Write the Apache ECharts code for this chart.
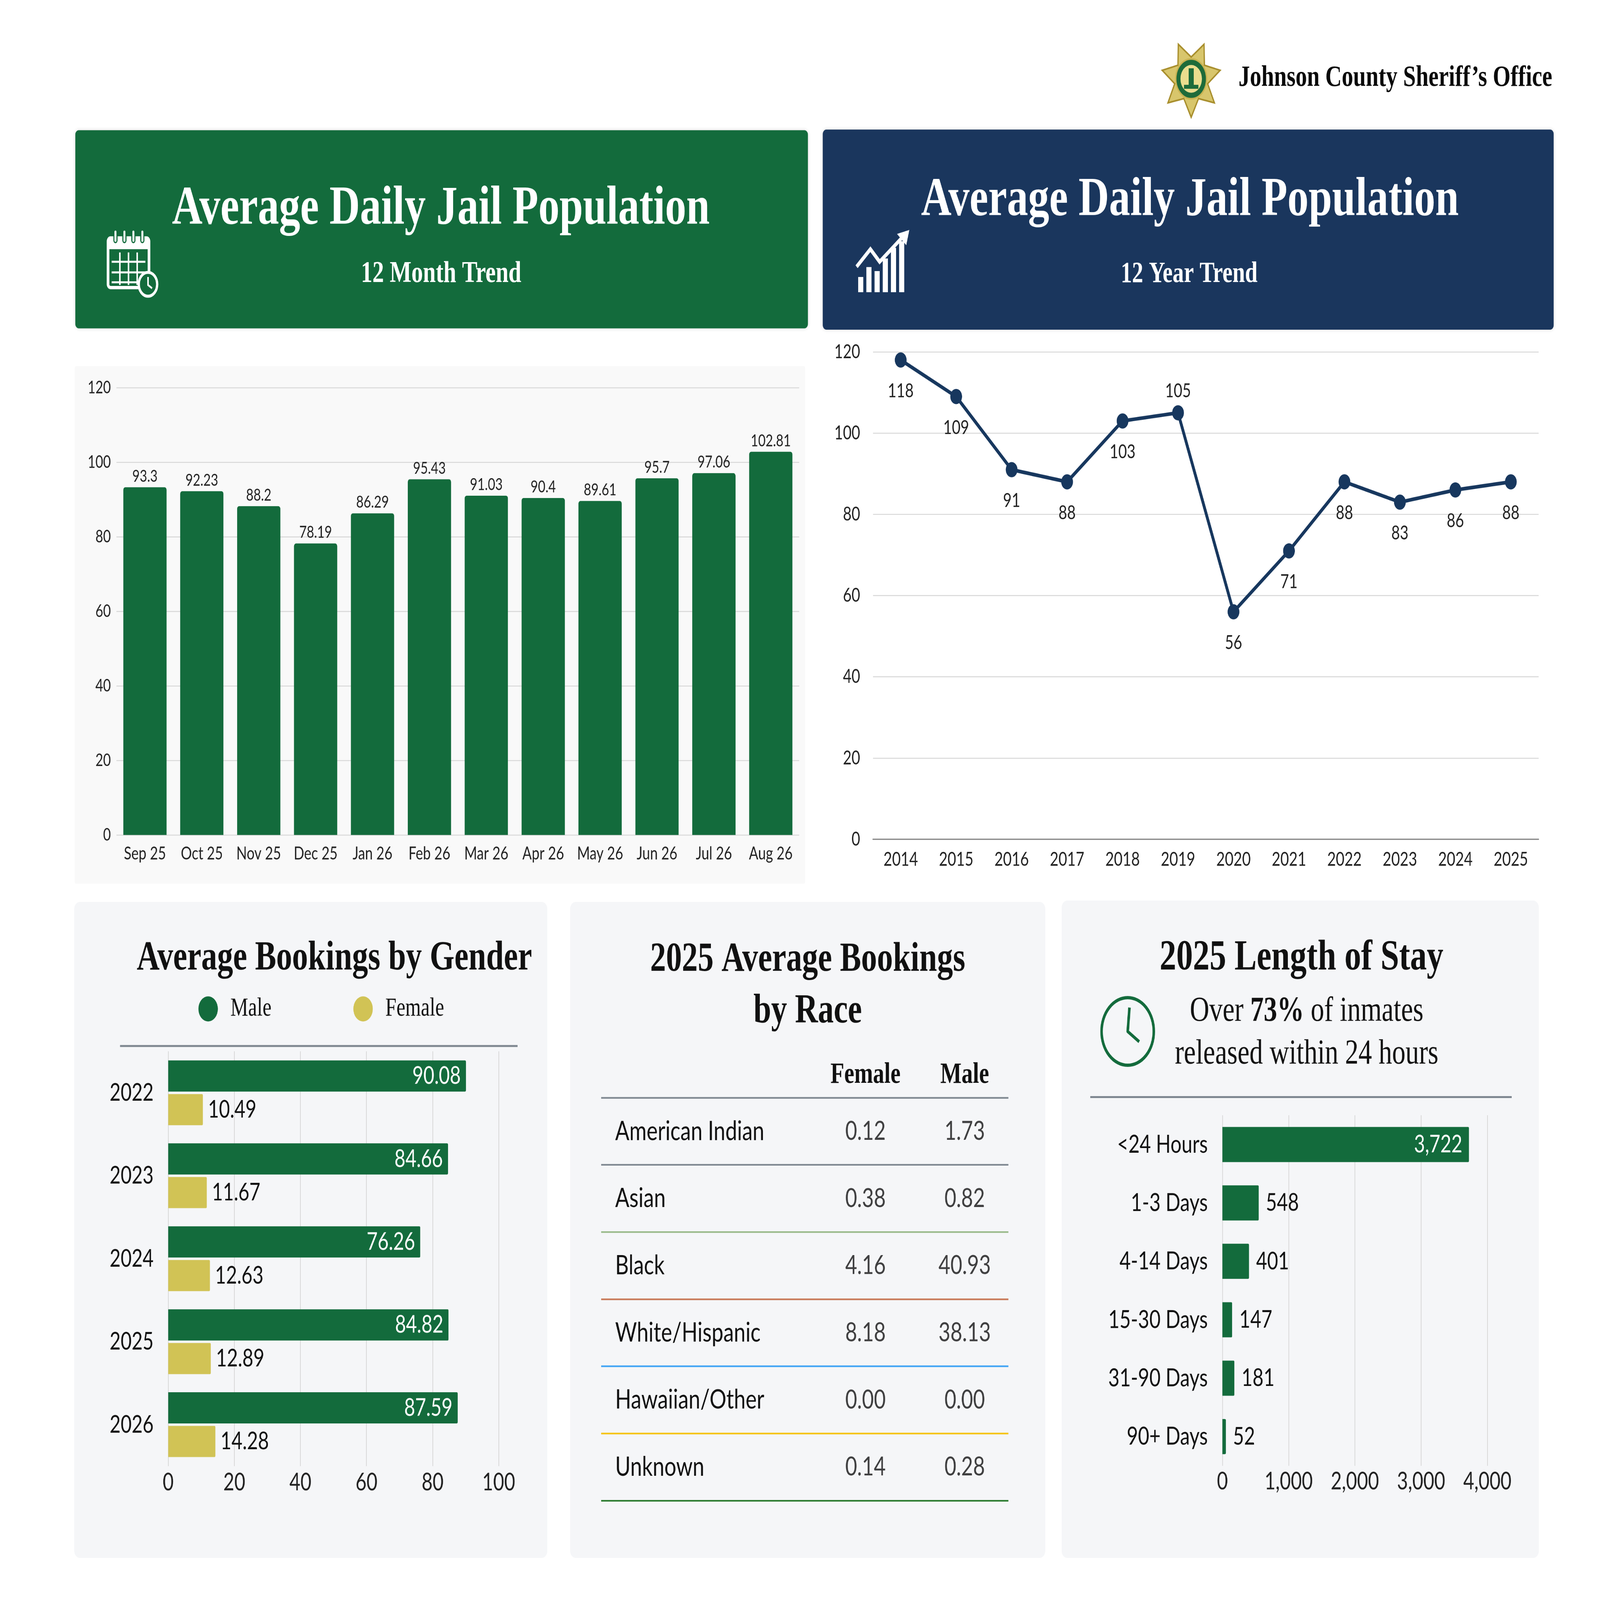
<!DOCTYPE html>
<html><head><meta charset="utf-8">
<script src="https://cdn.jsdelivr.net/npm/echarts@6/dist/echarts.min.js"></script>
<style>html,body{margin:0;padding:0;background:#ffffff;overflow:hidden}#c{width:6250px;height:4829px;transform-origin:0 0}</style>
</head><body><div id="c"></div>
<script>
// ---------------- DATA ----------------
const monthCategories = ['Sep 25','Oct 25','Nov 25','Dec 25','Jan 26','Feb 26','Mar 26','Apr 26','May 26','Jun 26','Jul 26','Aug 26'];
const monthValues = [93.3, 92.23, 88.2, 78.19, 86.29, 95.43, 91.03, 90.4, 89.61, 95.7, 97.06, 102.81];

const yearCategories = ['2014','2015','2016','2017','2018','2019','2020','2021','2022','2023','2024','2025'];
const yearValues = [118, 109, 91, 88, 103, 105, 56, 71, 88, 83, 86, 88];

const genderYears = ['2022','2023','2024','2025','2026'];
const maleBookings = [90.08, 84.66, 76.26, 84.82, 87.59];
const femaleBookings = [10.49, 11.67, 12.63, 12.89, 14.28];

const raceCategories = ['American Indian','Asian','Black','White/Hispanic','Hawaiian/Other','Unknown'];
const raceColumns = ['Female','Male'];
const raceFemale = [0.12, 0.38, 4.16, 8.18, 0.00, 0.14];
const raceMale = [1.73, 0.82, 40.93, 38.13, 0.00, 0.28];

const stayCategories = ['<24 Hours','1-3 Days','4-14 Days','15-30 Days','31-90 Days','90+ Days'];
const stayValues = [3722, 548, 401, 147, 181, 52];

// ---------------- FIT TO WINDOW ----------------
const DESIGN_W = 6250, DESIGN_H = 4829;
const box = document.getElementById('c');
const sx = window.innerWidth / DESIGN_W, sy = window.innerHeight / DESIGN_H;
if (Math.abs(sx - 1) > 0.001 || Math.abs(sy - 1) > 0.001) {
  box.style.transform = 'scale(' + sx + ',' + sy + ')';
}

// ---------------- STYLE ----------------
const GREEN = '#136B3C', NAVY = '#1A365D', GOLD = '#D1C355', LINE = '#17375E';
const SANS = 'Lato', SERIF = 'Liberation Serif';
const PANEL = '#F5F6F8';
const GRIDC = '#D9D9D9';
const raceLineColors = ['#7F8891','#7F8891','#9BBB8C','#C97B5A','#42A5F5','#F5C518','#2E7D32'];
const LABEL_ABOVE_YEAR = '2019';

function txt(x, y, text, size, opts) {
  opts = opts || {};
  return {
    type: 'text', x: x, y: y, z: 20,
    style: Object.assign({
      text: text, fill: opts.fill || '#111', fontFamily: opts.family || SERIF,
      fontSize: size, fontWeight: opts.weight || 'bold',
      align: opts.align || 'center', verticalAlign: 'middle'
    }, opts.style || {})
  };
}

function starPoints(cx, cy, R, r, n) {
  const pts = [];
  for (let k = 0; k < 2 * n; k++) {
    const a = Math.PI / 2 + k * Math.PI / n;
    const rad = k % 2 === 0 ? R : r;
    pts.push([cx + rad * Math.cos(a), cy + rad * Math.sin(a)]);
  }
  return pts;
}

const W = '#ffffff';
const BX = 4653, BY = 238; // badge centre
const CX = 4405, CY = 3113; // clock centre
const graphics = [
  // panels
  {type:'rect', z:-10, shape:{x:294,y:393,width:2862,height:598,r:14}, style:{fill:GREEN, shadowBlur:12, shadowColor:'rgba(0,0,0,0.15)'}},
  {type:'rect', z:-10, shape:{x:3214,y:391,width:2855,height:604,r:14}, style:{fill:NAVY, shadowBlur:12, shadowColor:'rgba(0,0,0,0.15)'}},
  {type:'rect', z:-10, shape:{x:292,y:1105,width:2853,height:1562,r:6}, style:{fill:'#F9F9F9'}},
  {type:'rect', z:-10, shape:{x:290,y:2722,width:1848,height:1980,r:22}, style:{fill:PANEL}},
  {type:'rect', z:-10, shape:{x:2227,y:2722,width:1856,height:1980,r:22}, style:{fill:PANEL}},
  {type:'rect', z:-10, shape:{x:4147,y:2718,width:1864,height:1984,r:22}, style:{fill:PANEL}},
  // header texts
  txt(1722, 632, 'Average Daily Jail Population', 165, {fill:W}),
  txt(1723, 828, '12 Month Trend', 90, {fill:W}),
  txt(4648, 606, 'Average Daily Jail Population', 165, {fill:W}),
  txt(4645, 828, '12 Year Trend', 88, {fill:W}),
  txt(4838, 236, 'Johnson County Sheriff\u2019s Office', 89, {fill:'#0A0A0A', align:'left'}),
  // panel titles
  txt(1306, 2894, 'Average Bookings by Gender', 124),
  txt(3155, 2976, '2025 Average Bookings\nby Race', 124, {style:{lineHeight:156}}),
  txt(5084, 2892, '2025 Length of Stay', 130),
  {type:'text', x:5104, y:3118, z:20, style:{
    text:'Over {b|73%} of inmates\nreleased within 24 hours', fill:'#111', fontFamily:SERIF, fontSize:105,
    fontWeight:'normal', align:'center', verticalAlign:'middle', lineHeight:129,
    rich:{b:{fontFamily:SERIF, fontSize:105, fontWeight:'bold', fill:'#111', lineHeight:129}}
  }},
  // separators
  {type:'line', z:5, shape:{x1:469,y1:3157,x2:2022,y2:3157}, style:{stroke:'#7F8891', lineWidth:6}},
  {type:'line', z:5, shape:{x1:4259,y1:3311,x2:5905,y2:3311}, style:{stroke:'#7F8891', lineWidth:6}},
  // LOS clock icon
  {type:'circle', z:5, shape:{cx:CX,cy:CY,r:102}, style:{fill:'none', stroke:GREEN, lineWidth:10}},
  {type:'polyline', z:5, shape:{points:[[CX+7,CY-72],[CX,CY],[CX+45,CY+31]]}, style:{fill:'none', stroke:GREEN, lineWidth:10, lineJoin:'round'}},
  // calendar icon
  {type:'rect', z:5, shape:{x:422,y:718,width:160,height:150,r:10}, style:{fill:'none', stroke:W, lineWidth:10}},
  {type:'rect', z:5, shape:{x:422,y:718,width:160,height:34}, style:{fill:W}},
  {type:'rect', z:6, shape:{x:445,y:694,width:12,height:38,r:6}, style:{fill:W, stroke:GREEN, lineWidth:4}},
  {type:'rect', z:6, shape:{x:480,y:694,width:12,height:38,r:6}, style:{fill:W, stroke:GREEN, lineWidth:4}},
  {type:'rect', z:6, shape:{x:515,y:694,width:12,height:38,r:6}, style:{fill:W, stroke:GREEN, lineWidth:4}},
  {type:'rect', z:6, shape:{x:550,y:694,width:12,height:38,r:6}, style:{fill:W, stroke:GREEN, lineWidth:4}},
  {type:'line', z:5, shape:{x1:436,y1:790,x2:568,y2:790}, style:{stroke:W, lineWidth:6}},
  {type:'line', z:5, shape:{x1:436,y1:822,x2:568,y2:822}, style:{stroke:W, lineWidth:6}},
  {type:'line', z:5, shape:{x1:436,y1:852,x2:568,y2:852}, style:{stroke:W, lineWidth:6}},
  {type:'line', z:5, shape:{x1:468,y1:762,x2:468,y2:860}, style:{stroke:W, lineWidth:6}},
  {type:'line', z:5, shape:{x1:502,y1:762,x2:502,y2:860}, style:{stroke:W, lineWidth:6}},
  {type:'line', z:5, shape:{x1:536,y1:762,x2:536,y2:860}, style:{stroke:W, lineWidth:6}},
  {type:'circle', z:7, shape:{cx:578,cy:858,r:36}, style:{fill:GREEN, stroke:W, lineWidth:9}},
  {type:'polyline', z:8, shape:{points:[[578,836],[578,860],[594,870]]}, style:{fill:'none', stroke:W, lineWidth:6}},
  // growth chart icon
  {type:'rect', z:5, shape:{x:3352,y:836,width:20,height:46}, style:{fill:W}},
  {type:'rect', z:5, shape:{x:3384,y:806,width:20,height:76}, style:{fill:W}},
  {type:'rect', z:5, shape:{x:3416,y:818,width:20,height:64}, style:{fill:W}},
  {type:'rect', z:5, shape:{x:3448,y:780,width:20,height:102}, style:{fill:W}},
  {type:'rect', z:5, shape:{x:3480,y:748,width:20,height:134}, style:{fill:W}},
  {type:'rect', z:5, shape:{x:3512,y:728,width:20,height:154}, style:{fill:W}},
  {type:'polyline', z:6, shape:{points:[[3346,805],[3400,752],[3436,790],[3530,712]]}, style:{fill:'none', stroke:W, lineWidth:12}},
  {type:'polygon', z:6, shape:{points:[[3552,694],[3504,706],[3540,740]]}, style:{fill:W}},
  // badge
  {type:'polygon', z:5, shape:{points:starPoints(BX,BY,116,66,7)}, style:{fill:'#D8C66C', stroke:'#A88E2C', lineWidth:5}},
  {type:'circle', z:6, shape:{cx:BX,cy:BY,r:60}, style:{fill:'#1E6B3A', stroke:'#C9B352', lineWidth:5}},
  {type:'circle', z:7, shape:{cx:BX,cy:BY,r:42}, style:{fill:'#EBDD8E'}},
  {type:'rect', z:8, shape:{x:BX-10,y:BY-32,width:20,height:60}, style:{fill:'#1E6B3A'}},
  {type:'rect', z:8, shape:{x:BX-28,y:BY+18,width:56,height:12}, style:{fill:'#1E6B3A'}}
];

const axisLabelBase = { fontFamily: SANS, color: '#222' };

const option = {
  animation: false,
  backgroundColor: '#ffffff',
  textStyle: { fontFamily: SANS },
  graphic: { elements: graphics },
  legend: {
    data: ['Male','Female'], left: 770, top: 3001, orient: 'horizontal',
    icon: 'circle', itemWidth: 76, itemHeight: 76, itemGap: 320,
    textStyle: { fontFamily: SERIF, fontSize: 78, color: '#111', padding: [0,0,0,44] }
  },
  grid: [
    { left: 455, top: 1170, width: 2667, height: 1350, outerBoundsMode: 'none' },
    { left: 3410, top: 1062, width: 2600, height: 1471, outerBoundsMode: 'none' },
    { left: 657, top: 3173, width: 1291, height: 1252, outerBoundsMode: 'none' },
    { left: 2348, top: 3313, width: 1591, height: 1216, outerBoundsMode: 'none' },
    { left: 3187, top: 3313, width: 775, height: 1216, outerBoundsMode: 'none' },
    { left: 4775, top: 3366, width: 1035, height: 1058, outerBoundsMode: 'none' }
  ],
  xAxis: [
    { gridIndex: 0, type: 'category', data: monthCategories, axisLine: {show:false}, axisTick: {show:false},
      axisLabel: Object.assign({fontSize: 54, margin: 30, interval: 0}, axisLabelBase) },
    { gridIndex: 1, type: 'category', data: yearCategories, axisLine: {show:true, lineStyle:{color:'#8A8A8A', width:4}}, axisTick: {show:false},
      axisLabel: Object.assign({fontSize: 58, margin: 32, interval: 0}, axisLabelBase) },
    { gridIndex: 2, type: 'value', min: 0, max: 100, interval: 20, axisLine: {show:false}, axisTick: {show:false},
      splitLine: {show:true, lineStyle:{color:GRIDC, width:3}},
      axisLabel: Object.assign({fontSize: 74, margin: 12}, axisLabelBase) },
    { gridIndex: 3, type: 'value', show: false, min: 0, max: 1 },
    { gridIndex: 4, type: 'category', data: raceColumns, position: 'top', axisLine: {show:false}, axisTick: {show:false},
      axisLabel: { fontFamily: SERIF, fontWeight: 'bold', fontSize: 88, color: '#111', margin: 24, interval: 0 } },
    { gridIndex: 5, type: 'value', min: 0, max: 4000, interval: 1000, axisLine: {show:false}, axisTick: {show:false},
      splitLine: {show:true, lineStyle:{color:GRIDC, width:3}},
      axisLabel: Object.assign({fontSize: 74, margin: 10, formatter: v => v.toLocaleString('en-US')}, axisLabelBase) }
  ],
  yAxis: [
    { gridIndex: 0, type: 'value', min: 0, max: 120, interval: 20, axisLine:{show:false}, axisTick:{show:false},
      splitLine: {show:true, lineStyle:{color:GRIDC, width:3}},
      axisLabel: Object.assign({fontSize: 52, margin: 22}, axisLabelBase) },
    { gridIndex: 1, type: 'value', min: 0, max: 120, interval: 20, axisLine:{show:false}, axisTick:{show:false},
      splitLine: {show:true, lineStyle:{color:GRIDC, width:3}},
      axisLabel: Object.assign({fontSize: 58, margin: 50}, axisLabelBase) },
    { gridIndex: 2, type: 'category', data: genderYears, inverse: true, axisLine:{show:false}, axisTick:{show:false},
      axisLabel: Object.assign({fontSize: 74, margin: 57, interval: 0}, axisLabelBase, {color:'#111'}) },
    { gridIndex: 3, type: 'category', data: raceCategories, inverse: true, axisLine:{show:false}, axisTick:{show:false},
      splitLine: {show:true, interval: 0, lineStyle:{color: raceLineColors, width: 5}},
      axisLabel: { inside: true, margin: 55, fontFamily: SANS, fontSize: 82, color: '#111', interval: 0 } },
    { gridIndex: 4, type: 'category', data: raceCategories, inverse: true, show: false },
    { gridIndex: 5, type: 'category', data: stayCategories, inverse: true, axisLine:{show:false}, axisTick:{show:false},
      axisLabel: Object.assign({fontSize: 76, margin: 57, interval: 0}, axisLabelBase, {color:'#111'}) }
  ],
  series: [
    { type: 'bar', xAxisIndex: 0, yAxisIndex: 0, data: monthValues, barCategoryGap: '24%',
      itemStyle: { color: GREEN, borderRadius: [8,8,0,0] },
      label: { show: true, position: 'top', distance: 8, fontFamily: SANS, fontSize: 50, color: '#222' } },
    { type: 'line', xAxisIndex: 1, yAxisIndex: 1,
      data: yearValues.map((v, i) => ({ value: v, label: yearCategories[i] === LABEL_ABOVE_YEAR ? { position: 'top', distance: 14 } : { position: 'bottom', distance: 42 } })),
      symbol: 'circle', symbolSize: 46, lineStyle: { color: LINE, width: 11 }, itemStyle: { color: LINE },
      label: { show: true, fontFamily: SANS, fontSize: 58, color: '#222' } },
    { name: 'Male', type: 'bar', xAxisIndex: 2, yAxisIndex: 2, data: maleBookings, barWidth: 94, barGap: '8%',
      itemStyle: { color: GREEN, borderRadius: [0,4,4,0] },
      label: { show: true, position: 'insideRight', distance: 20, fontFamily: SANS, fontSize: 74, color: '#ffffff', formatter: p => p.value.toFixed(2) } },
    { name: 'Female', type: 'bar', xAxisIndex: 2, yAxisIndex: 2, data: femaleBookings, barWidth: 94, barGap: '8%',
      itemStyle: { color: GOLD, borderRadius: [0,4,4,0] },
      label: { show: true, position: 'right', distance: 20, fontFamily: SANS, fontSize: 74, color: '#111', formatter: p => p.value.toFixed(2) } },
    { type: 'scatter', xAxisIndex: 3, yAxisIndex: 3, data: [], silent: true },
    { type: 'scatter', xAxisIndex: 4, yAxisIndex: 4, symbolSize: 1, itemStyle: { color: 'rgba(0,0,0,0)' },
      data: raceFemale.map((v, i) => [raceColumns[0], raceCategories[i], v]),
      label: { show: true, position: 'inside', fontFamily: SANS, fontSize: 80, color: '#111', formatter: p => p.value[2].toFixed(2) } },
    { type: 'scatter', xAxisIndex: 4, yAxisIndex: 4, symbolSize: 1, itemStyle: { color: 'rgba(0,0,0,0)' },
      data: raceMale.map((v, i) => [raceColumns[1], raceCategories[i], v]),
      label: { show: true, position: 'inside', fontFamily: SANS, fontSize: 80, color: '#111', formatter: p => p.value[2].toFixed(2) } },
    { type: 'bar', xAxisIndex: 5, yAxisIndex: 5, barWidth: 106,
      data: stayValues.map(v => (v > Math.max.apply(null, stayValues) * 0.5 ? { value: v, label: { position: 'insideRight', color: '#ffffff', distance: 26 } } : v)),
      itemStyle: { color: GREEN, borderRadius: [0,4,4,0] },
      label: { show: true, position: 'right', distance: 28, fontFamily: SANS, fontSize: 74, color: '#111', formatter: p => p.value.toLocaleString('en-US') } }
  ]
};

const chart = echarts.init(box, null, { renderer: 'canvas', width: DESIGN_W, height: DESIGN_H });
chart.setOption(option);
</script>
</body></html>
